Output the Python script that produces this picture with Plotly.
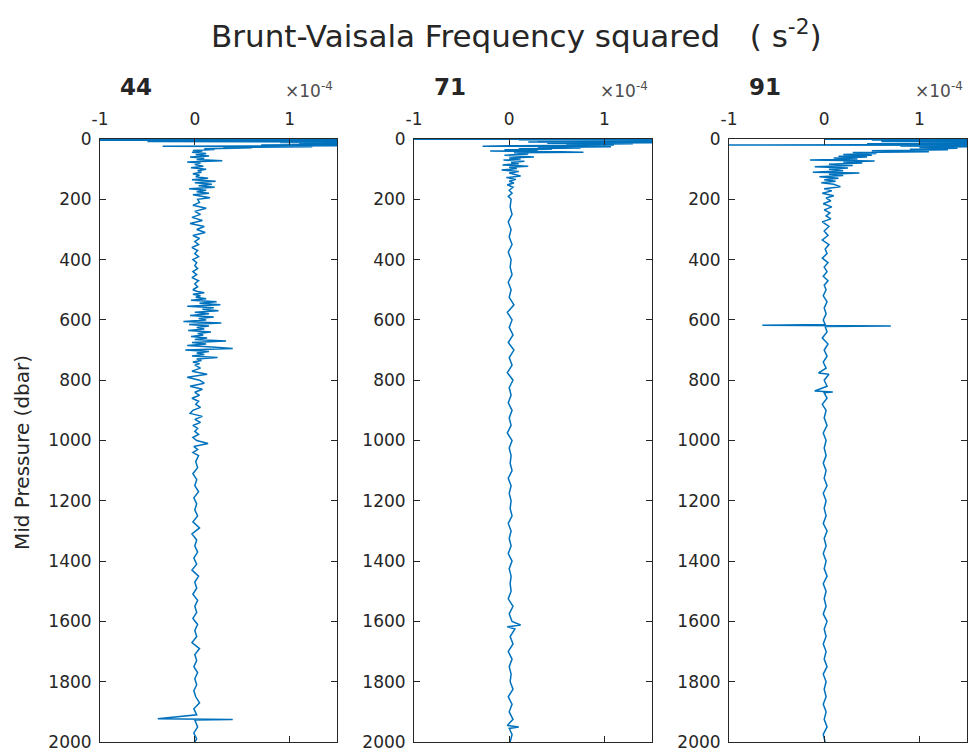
import plotly.graph_objects as go

# ---------------- data (N^2 in units of 1e-4 s^-2, pressure in dbar) ----------------
PANEL_TITLES = ["44", "71", "91"]
X_TICKS = [-1, 0, 1]
X_TICK_LABELS = ["-1", "0", "1"]
Y_TICKS = [0, 200, 400, 600, 800, 1000, 1200, 1400, 1600, 1800, 2000]
X_EXPONENT = "-4"

P44 = [1, 2, 3, 4, 5, 6, 7, 8, 10, 12,
       14, 16, 18, 20, 22, 24, 26, 28, 30, 32,
       35, 38, 40, 44, 48, 52, 56, 60, 64, 68,
       72, 76, 80, 85, 90, 95, 100, 105, 110, 115,
       120, 125, 130, 135, 140, 145, 150, 155, 160, 165,
       170, 175, 180, 185, 190, 195, 200, 210, 220, 230,
       240, 250, 260, 270, 280, 290, 300, 310, 320, 330,
       340, 350, 360, 370, 380, 390, 400, 410, 420, 430,
       440, 450, 460, 470, 480, 490, 500, 505, 510, 515,
       520, 525, 530, 535, 540, 545, 550, 555, 560, 565,
       570, 575, 580, 585, 590, 595, 600, 605, 610, 615,
       620, 625, 630, 635, 640, 645, 650, 655, 660, 665,
       670, 675, 680, 685, 690, 695, 700, 705, 710, 715,
       720, 725, 730, 735, 740, 745, 750, 760, 770, 780,
       790, 800, 810, 820, 830, 840, 850, 860, 870, 880,
       890, 900, 910, 920, 930, 940, 950, 960, 970, 980,
       990, 1000, 1010, 1020, 1030, 1040, 1050, 1070, 1090, 1110,
       1130, 1150, 1170, 1190, 1210, 1230, 1250, 1270, 1290, 1310,
       1330, 1350, 1370, 1390, 1410, 1430, 1450, 1470, 1490, 1510,
       1530, 1550, 1570, 1590, 1610, 1630, 1650, 1670, 1690, 1710,
       1730, 1750, 1770, 1790, 1810, 1830, 1850, 1870, 1890, 1910,
       1923, 1925, 1927, 1950, 1970, 1990, 2000]
N2_44 = [0.2, -1.6, 2.5, -1.2, 2.8, 0.4, 2.2, -0.5, 1.9, 0.9,
         2.0, 1.1, 1.7, 0.7, 1.5, -0.34, 1.24, 0.3, 0.6, 0.1,
         0.21, -0.02, 0.08, -0.03, 0.12, 0.01, 0.15, -0.05, 0.10, 0.02,
         0.29, -0.08, 0.06, 0.0, 0.09, -0.04, 0.12, 0.03, 0.07, -0.02,
         0.05, 0.01, 0.14, -0.03, 0.22, 0.0, 0.18, 0.04, 0.21, -0.06,
         0.12, 0.02, 0.15, -0.02, 0.08, 0.16, 0.03, 0.05, -0.02, 0.12,
         0.0, 0.06, -0.03, 0.08, -0.05, 0.1, 0.02, 0.11, -0.02, 0.05,
         0.0, 0.04, -0.03, 0.03, 0.0, 0.04, -0.02, 0.02, 0.0, 0.03,
         -0.02, 0.02, -0.03, 0.04, 0.0, 0.03, -0.02, 0.02, 0.1, -0.02,
         0.06, 0.01, 0.12, -0.04, 0.23, 0.05, 0.27, -0.08, 0.2, 0.08,
         0.25, 0.0, 0.15, -0.05, 0.2, 0.04, 0.12, -0.12, 0.28, -0.06,
         0.15, 0.02, 0.1, -0.07, 0.17, 0.03, 0.09, -0.04, 0.13, 0.0,
         0.33, -0.03, 0.12, -0.08, 0.18, 0.4, -0.1, 0.15, 0.02, 0.1,
         -0.03, 0.24, 0.02, 0.07, -0.02, 0.05, 0.0, 0.06, -0.03, 0.13,
         -0.08, 0.05, 0.1, -0.05, 0.08, 0.0, 0.05, -0.03, 0.04, 0.01,
         0.06, -0.02, -0.05, 0.08, 0.0, 0.06, -0.02, 0.03, 0.0, 0.04,
         -0.02, 0.02, 0.14, -0.01, 0.03, -0.02, 0.04, 0.01, 0.03, -0.02,
         0.02, 0.0, 0.04, -0.01, 0.02, 0.0, 0.03, -0.02, 0.05, -0.03,
         0.02, 0.0, 0.03, -0.01, 0.02, -0.03, 0.04, 0.0, 0.02, -0.02,
         0.03, 0.0, 0.02, -0.02, 0.03, 0.0, 0.02, -0.03, 0.05, 0.0,
         0.02, -0.01, 0.03, 0.0, 0.02, -0.01, 0.01, 0.05, -0.01, 0.02,
         -0.39, 0.4, 0.0, 0.03, -0.01, 0.02, 0.0]

P71 = [0.5, 1.5, 3, 4, 5, 6, 7, 8, 10, 12,
       14, 16, 18, 20, 22, 24, 26, 28, 30, 32,
       34, 36, 38, 40, 42, 44, 46, 50, 54, 58,
       60, 63, 66, 70, 74, 78, 82, 86, 90, 94,
       98, 103, 108, 113, 118, 123, 128, 134, 140, 146,
       152, 160, 170, 180, 190, 200, 225, 250, 275, 300,
       325, 350, 375, 400, 425, 450, 475, 500, 525, 550,
       575, 600, 625, 650, 675, 700, 725, 750, 775, 800,
       825, 850, 875, 900, 925, 950, 975, 1000, 1025, 1050,
       1075, 1100, 1125, 1150, 1175, 1200, 1225, 1250, 1275, 1300,
       1325, 1350, 1375, 1400, 1425, 1450, 1475, 1500, 1525, 1550,
       1575, 1600, 1612, 1618, 1625, 1650, 1675, 1700, 1725, 1750,
       1775, 1800, 1825, 1850, 1875, 1900, 1925, 1945, 1950, 1955,
       1975, 2000]
N2_71 = [-1.3, 2.2, 0.1, 1.8, 0.3, 2.0, 0.5, 1.6, 0.2, 1.7,
         0.4, 1.3, 0.6, 1.1, 0.1, -0.28, 1.07, 0.3, 0.75, 0.1,
         0.45, -0.05, 0.3, -0.2, 0.55, 0.78, 0.05, 0.2, -0.05, 0.15,
         0.26, 0.0, 0.12, -0.06, 0.16, 0.02, 0.1, -0.07, 0.2, 0.0,
         0.08, -0.08, 0.1, 0.0, 0.06, 0.12, -0.03, 0.07, 0.0, 0.05,
         -0.02, 0.04, 0.0, 0.03, -0.01, 0.02, 0.01, 0.03, -0.01, 0.02,
         0.0, 0.03, -0.01, 0.02, 0.01, 0.03, -0.01, 0.02, 0.0, 0.05,
         -0.02, 0.03, 0.0, 0.04, -0.01, 0.05, 0.0, 0.03, -0.02, 0.04,
         0.0, 0.02, -0.01, 0.03, 0.0, 0.02, -0.02, 0.03, 0.0, 0.02,
         0.01, 0.03, -0.01, 0.02, 0.0, 0.02, 0.01, 0.03, -0.01, 0.02,
         0.0, 0.02, -0.01, 0.03, 0.0, 0.02, 0.01, 0.02, -0.01, 0.04,
         0.0, 0.03, 0.12, -0.02, 0.06, 0.01, 0.04, -0.01, 0.03, 0.0,
         0.02, 0.01, 0.04, -0.01, 0.03, 0.0, 0.04, -0.02, 0.1, 0.0,
         0.03, 0.01]

P91 = [0.5, 1.5, 3, 4, 5, 6, 8, 10, 12, 14,
       16, 18, 20, 21, 23, 25, 28, 31, 34, 36,
       39, 42, 45, 48, 51, 54, 57, 60, 63, 66,
       70, 73, 76, 80, 84, 88, 92, 96, 100, 105,
       110, 113, 117, 121, 125, 130, 135, 140, 145, 150,
       158, 165, 172, 180, 188, 196, 205, 215, 225, 235,
       245, 255, 265, 275, 290, 305, 320, 335, 350, 365,
       380, 395, 410, 425, 440, 455, 470, 485, 500, 520,
       540, 560, 580, 600, 615, 618, 620, 622, 640, 660,
       680, 700, 720, 740, 760, 776, 780, 800, 820, 836,
       839, 842, 860, 880, 900, 925, 950, 975, 1000, 1025,
       1050, 1075, 1100, 1125, 1150, 1175, 1200, 1225, 1250, 1275,
       1300, 1325, 1350, 1375, 1400, 1425, 1450, 1475, 1500, 1525,
       1550, 1575, 1600, 1625, 1650, 1675, 1700, 1725, 1750, 1775,
       1800, 1825, 1850, 1875, 1900, 1925, 1950, 1975, 2000]
N2_91 = [0.0, 2.3, 0.5, 1.9, 0.9, 2.1, 0.6, 1.8, 1.0, 2.2,
         0.45, 1.7, -1.4, 2.0, 0.8, 1.6, 1.0, 1.4, 0.9, 1.3,
         0.5, 1.1, 0.3, 0.55, 0.2, 0.5, 0.15, 0.45, 0.1, 0.35,
         -0.15, 0.53, 0.2, 0.4, 0.05, 0.3, -0.1, 0.25, 0.05, 0.2,
         -0.12, 0.37, 0.05, 0.2, -0.05, 0.15, 0.0, 0.12, -0.03, 0.1,
         0.17, 0.0, 0.08, -0.02, 0.1, 0.02, 0.07, -0.01, 0.08, 0.0,
         0.06, 0.02, 0.07, -0.02, 0.05, 0.0, 0.04, -0.02, 0.05, 0.01,
         0.03, -0.02, 0.04, 0.0, 0.03, -0.01, 0.04, 0.0, 0.02, -0.01,
         0.03, 0.0, 0.02, -0.01, 0.01, -0.65, 0.7, 0.01, 0.03, -0.02,
         0.04, 0.0, 0.03, -0.01, 0.02, -0.06, 0.05, 0.0, 0.03, -0.1,
         0.09, 0.0, 0.03, -0.02, 0.02, 0.0, 0.03, -0.01, 0.02, 0.0,
         0.02, -0.01, 0.02, 0.0, 0.03, -0.01, 0.02, 0.0, 0.02, -0.01,
         0.03, 0.0, 0.02, -0.01, 0.02, 0.0, 0.03, -0.01, 0.02, 0.0,
         0.02, -0.01, 0.03, 0.0, 0.02, -0.01, 0.02, 0.0, 0.03, -0.01,
         0.02, 0.0, 0.02, -0.01, 0.02, 0.0, 0.03, -0.01, 0.01]

PROFILES = [(P44, N2_44), (P71, N2_71), (P91, N2_91)]

# ---------------- layout ----------------
W, H = 970, 756
FONT = "DejaVu Sans, Liberation Sans, Arial, sans-serif"
AX_COLOR = "#262626"
LINE_COLOR = "#0072BD"
PANEL_X = [(100, 337), (414, 652), (729, 967)]   # pixel extents
TOP_PX, BOT_PX = 139, 742

fig = go.Figure()
layout = dict(
    width=W, height=H,
    margin=dict(l=0, r=0, t=0, b=0, autoexpand=False),
    paper_bgcolor="white", plot_bgcolor="white",
    showlegend=False,
    font=dict(family=FONT, color=AX_COLOR, size=17),
)

annotations = []
for i, ((P, V), title) in enumerate(zip(PROFILES, PANEL_TITLES)):
    n = "" if i == 0 else str(i + 1)
    fig.add_trace(go.Scatter(
        x=V, y=P, mode="lines",
        line=dict(color=LINE_COLOR, width=1.5),
        xaxis="x" + n, yaxis="y" + n, hoverinfo="skip",
    ))
    x0, x1 = PANEL_X[i]
    common = dict(showline=True, linecolor=AX_COLOR, linewidth=1, mirror="ticks",
                  ticks="inside", ticklen=6, tickwidth=1, tickcolor=AX_COLOR,
                  showgrid=False, zeroline=False,
                  tickfont=dict(family=FONT, size=17, color=AX_COLOR))
    layout["xaxis" + n] = dict(
        domain=[x0 / W, x1 / W], anchor="y" + n, side="top",
        range=[-1, 1.5], tickmode="array", tickvals=X_TICKS, ticktext=X_TICK_LABELS,
        ticklabelstandoff=6, **common)
    layout["yaxis" + n] = dict(
        domain=[1 - BOT_PX / H, 1 - TOP_PX / H], anchor="x" + n,
        range=[2000, 0], tickmode="array", tickvals=Y_TICKS,
        ticktext=[str(t) for t in Y_TICKS], ticklabelstandoff=4, **common)
    # panel title
    annotations.append(dict(
        text="<b>" + title + "</b>", x=(x0 + 36) / W, y=1 - 87 / H,
        xref="paper", yref="paper", xanchor="center", yanchor="middle",
        showarrow=False, font=dict(family=FONT, size=23, color=AX_COLOR)))
    # exponent label
    annotations.append(dict(
        text="\u00d710<sup>" + X_EXPONENT + "</sup>", x=(x1 - 2) / W, y=1 - 90 / H,
        xref="paper", yref="paper", xanchor="right", yanchor="middle",
        showarrow=False, font=dict(family=FONT, size=17, color="#4d4d4d")))

annotations.append(dict(
    text="Brunt-Vaisala Frequency squared\u00a0\u00a0\u00a0( s<sup>-2</sup>)",
    x=516 / W, y=1 - 34 / H, xref="paper", yref="paper",
    xanchor="center", yanchor="middle", showarrow=False,
    font=dict(family=FONT, size=31, color=AX_COLOR)))
annotations.append(dict(
    text="Mid Pressure (dbar)", x=22 / W, y=1 - 453 / H, xref="paper", yref="paper",
    xanchor="center", yanchor="middle", textangle=-90, showarrow=False,
    font=dict(family=FONT, size=20, color=AX_COLOR)))

layout["annotations"] = annotations
fig.update_layout(**layout)
fig.write_html("out.html", config={"displayModeBar": False},
               post_script="document.body.style.margin='0';document.body.style.overflow='hidden';")
